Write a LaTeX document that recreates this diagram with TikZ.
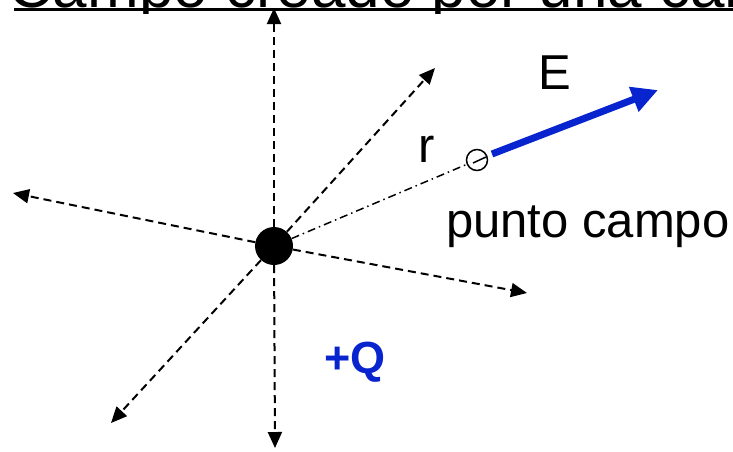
\documentclass[tikz,border=0pt]{standalone}
\usepackage{fontspec}
\setmainfont{Liberation Sans}
\usepackage{tikz}
\usetikzlibrary{arrows.meta,positioning}
\definecolor{fieldblue}{RGB}{8,36,206}

\begin{document}
\begin{tikzpicture}[
    x=1pt, y=-1pt,
    fieldline/.style={-{Triangle[length=16pt,width=14pt]}, line width=2pt, dash pattern=on 8pt off 5pt},
    radius/.style={line width=1.5pt, dash pattern=on 8pt off 4pt on 1.5pt off 4pt},
    charge/.style={circle, fill=black, minimum size=38pt, inner sep=0pt},
    point/.style={circle, draw, line width=1.5pt, minimum size=21pt, inner sep=0pt},
    lbl/.style={inner sep=0pt, font=\fontsize{49}{56}\selectfont}
]
\useasboundingbox (0,0) rectangle (733,451);
\clip (0,0) rectangle (733,451);

% title, cut at the top edge
\begin{scope}
\clip (0,0) rectangle (733,13);
\node[lbl, anchor=base west, font=\fontsize{62}{70}\selectfont] (title) at (8,7) {Campo creado por una carga};
\end{scope}
\draw[line width=3pt] (14,9.5) -- (733,9.5);

\node[charge] (q) at (274,246) {};
\node[point] (p) at (477,160) {};

% ends of the field lines
\coordinate (up) at (274,8);
\coordinate (down) at (275,448);
\coordinate (ur) at (435,68);
\coordinate (left) at (13,193);
\coordinate (lr) at (527,293);
\coordinate (ll) at (111,423);

\foreach \e in {up,down,ur,left,lr,ll}
    \draw[fieldline] (q) -- (\e);

\draw[radius] (q) -- (p);
\draw[line width=1.5pt] ([shift={(-4,3)}]p.center) -- ([shift={(9,-3)}]p.center);
\coordinate (Etip) at (658,90);
\draw[line width=7pt, fieldblue, -{Triangle[length=26pt,width=25pt]}] (492,154) -- (Etip);

\node[lbl] (E) at (555,73) {E};
\node[lbl] (r) at (427,149) {r};
\node[lbl, anchor=base west] (pc) at (446,237) {punto campo};
\node[lbl, anchor=base, text=fieldblue, font=\fontsize{45}{52}\selectfont\bfseries] (Q) at (355,373) {+Q};
\end{tikzpicture}
\end{document}
